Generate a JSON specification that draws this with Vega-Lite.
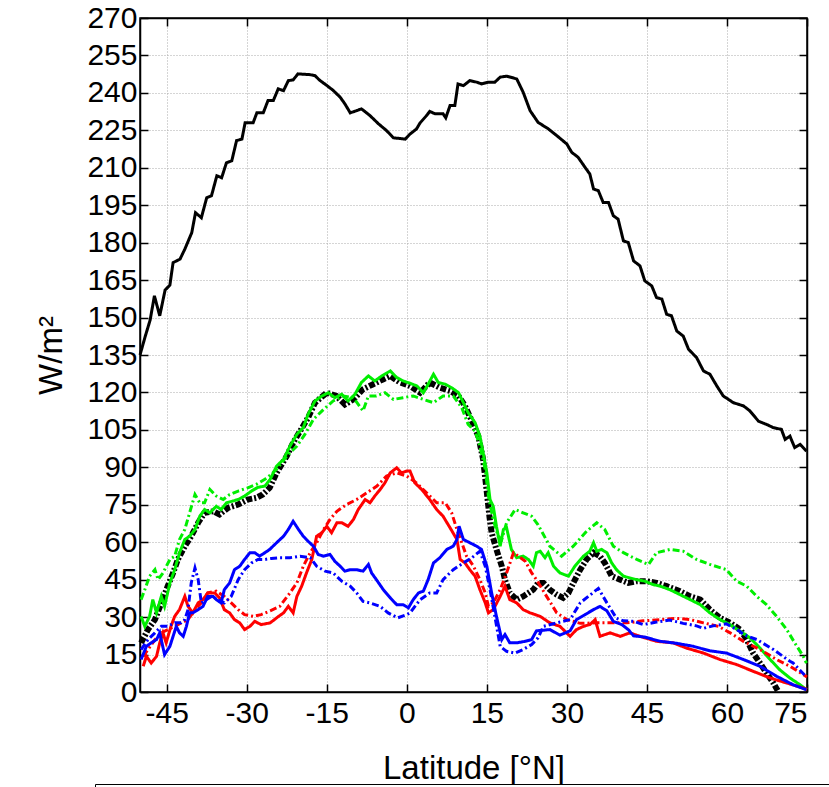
{
"$schema": "https://vega.github.io/schema/vega-lite/v6.json",
"width": 667, "height": 674,
"autosize": {"type": "none"},
"padding": {"left": 140, "top": 18, "right": 22, "bottom": 95},
"background": "white",
"config": {
 "view": {"stroke": "black", "strokeWidth": 1.5},
 "axis": {"labelFont": "Liberation Sans", "labelFontSize": 30, "labelColor": "#000", "titleFont": "Liberation Sans", "titleFontSize": 33, "titleFontWeight": "normal", "titleColor": "#000", "domainColor": "#000", "domainWidth": 1.5, "tickColor": "#000", "tickWidth": 1.5, "tickSize": -8, "gridColor": "#aaaaaa", "gridDash": [1, 2], "gridWidth": 1, "labelPadding": 11}
},
"datasets": {"d": [
{"s":"black solid","lat":-50,"v":135},{"s":"black solid","lat":-49,"v":142.6},{"s":"black solid","lat":-48.1,"v":149},{"s":"black solid","lat":-47.3,"v":158.7},{"s":"black solid","lat":-46.3,"v":150.7},{"s":"black solid","lat":-45.3,"v":161},{"s":"black solid","lat":-44.4,"v":163},{"s":"black solid","lat":-43.8,"v":172},{"s":"black solid","lat":-42.5,"v":173.4},{"s":"black solid","lat":-41.6,"v":177.4},{"s":"black solid","lat":-40.3,"v":184},{"s":"black solid","lat":-39.6,"v":192},{"s":"black solid","lat":-38.5,"v":190},{"s":"black solid","lat":-37.5,"v":198},{"s":"black solid","lat":-36.6,"v":198.8},{"s":"black solid","lat":-35.6,"v":206.8},{"s":"black solid","lat":-34.7,"v":206},{"s":"black solid","lat":-33.8,"v":212},{"s":"black solid","lat":-32.8,"v":212.8},{"s":"black solid","lat":-31.9,"v":220.9},{"s":"black solid","lat":-30.9,"v":221.5},{"s":"black solid","lat":-30.3,"v":228},{"s":"black solid","lat":-28.8,"v":228},{"s":"black solid","lat":-28.1,"v":232},{"s":"black solid","lat":-26.9,"v":232},{"s":"black solid","lat":-26,"v":237},{"s":"black solid","lat":-25,"v":237},{"s":"black solid","lat":-24.1,"v":241.6},{"s":"black solid","lat":-23.1,"v":240.9},{"s":"black solid","lat":-22.2,"v":244.9},{"s":"black solid","lat":-21.3,"v":245.2},{"s":"black solid","lat":-20.4,"v":247.6},{"s":"black solid","lat":-18.1,"v":247.3},{"s":"black solid","lat":-17.2,"v":246.9},{"s":"black solid","lat":-16.3,"v":245},{"s":"black solid","lat":-15,"v":243},{"s":"black solid","lat":-13.8,"v":241},{"s":"black solid","lat":-12.5,"v":238.3},{"s":"black solid","lat":-11.6,"v":235.6},{"s":"black solid","lat":-10.6,"v":232},{"s":"black solid","lat":-9.4,"v":232.9},{"s":"black solid","lat":-8.5,"v":233.6},{"s":"black solid","lat":-6.9,"v":230.9},{"s":"black solid","lat":-5.3,"v":227.6},{"s":"black solid","lat":-3.8,"v":224.9},{"s":"black solid","lat":-2.5,"v":222},{"s":"black solid","lat":-0.3,"v":221.5},{"s":"black solid","lat":0.6,"v":223.5},{"s":"black solid","lat":1.8,"v":225.5},{"s":"black solid","lat":2.5,"v":228},{"s":"black solid","lat":3.7,"v":230.9},{"s":"black solid","lat":4.3,"v":232.6},{"s":"black solid","lat":5.3,"v":231.6},{"s":"black solid","lat":6.8,"v":231.6},{"s":"black solid","lat":7.3,"v":230},{"s":"black solid","lat":8.1,"v":234.9},{"s":"black solid","lat":9,"v":234.9},{"s":"black solid","lat":9.6,"v":243.6},{"s":"black solid","lat":10.6,"v":242.9},{"s":"black solid","lat":11.8,"v":244.9},{"s":"black solid","lat":13.1,"v":244.3},{"s":"black solid","lat":14,"v":243.6},{"s":"black solid","lat":15.3,"v":244.3},{"s":"black solid","lat":16.5,"v":244.3},{"s":"black solid","lat":17.5,"v":246.3},{"s":"black solid","lat":18.7,"v":246.7},{"s":"black solid","lat":20.6,"v":245.6},{"s":"black solid","lat":21.8,"v":240.3},{"s":"black solid","lat":23.1,"v":232.9},{"s":"black solid","lat":24.6,"v":228.2},{"s":"black solid","lat":26.5,"v":225.6},{"s":"black solid","lat":28.1,"v":222.9},{"s":"black solid","lat":30,"v":219.5},{"s":"black solid","lat":30.9,"v":216.2},{"s":"black solid","lat":32.1,"v":214.2},{"s":"black solid","lat":33.4,"v":210.2},{"s":"black solid","lat":34.3,"v":207.5},{"s":"black solid","lat":35,"v":201.5},{"s":"black solid","lat":35.9,"v":200.8},{"s":"black solid","lat":36.8,"v":196.1},{"s":"black solid","lat":37.8,"v":196.1},{"s":"black solid","lat":38.7,"v":190.8},{"s":"black solid","lat":39.6,"v":189.4},{"s":"black solid","lat":40.6,"v":180.7},{"s":"black solid","lat":41.5,"v":180.1},{"s":"black solid","lat":42.5,"v":172.7},{"s":"black solid","lat":43.7,"v":170.7},{"s":"black solid","lat":44.6,"v":164.7},{"s":"black solid","lat":45.9,"v":162.7},{"s":"black solid","lat":46.8,"v":158},{"s":"black solid","lat":47.8,"v":157.4},{"s":"black solid","lat":48.7,"v":151.3},{"s":"black solid","lat":49.6,"v":150.7},{"s":"black solid","lat":50.6,"v":144.6},{"s":"black solid","lat":51.8,"v":142.6},{"s":"black solid","lat":52.8,"v":137.3},{"s":"black solid","lat":54.3,"v":134},{"s":"black solid","lat":55.6,"v":128.6},{"s":"black solid","lat":56.8,"v":127.3},{"s":"black solid","lat":58.1,"v":122.6},{"s":"black solid","lat":59.3,"v":118.6},{"s":"black solid","lat":61.2,"v":115.9},{"s":"black solid","lat":63.1,"v":114.6},{"s":"black solid","lat":64.3,"v":112.6},{"s":"black solid","lat":65.9,"v":108.5},{"s":"black solid","lat":67.4,"v":107.2},{"s":"black solid","lat":68.7,"v":105.9},{"s":"black solid","lat":70.2,"v":105.2},{"s":"black solid","lat":70.9,"v":101.2},{"s":"black solid","lat":71.8,"v":102.5},{"s":"black solid","lat":72.7,"v":97.9},{"s":"black solid","lat":73.7,"v":99.2},{"s":"black solid","lat":74.9,"v":96.5},
{"s":"black dash-dot","lat":-49.8,"v":19.7},{"s":"black dash-dot","lat":-48.5,"v":25},{"s":"black dash-dot","lat":-47.2,"v":29},{"s":"black dash-dot","lat":-46,"v":35.7},{"s":"black dash-dot","lat":-44.8,"v":42.4},{"s":"black dash-dot","lat":-43.8,"v":47.7},{"s":"black dash-dot","lat":-42.9,"v":53.1},{"s":"black dash-dot","lat":-41.6,"v":58.4},{"s":"black dash-dot","lat":-40.4,"v":62.4},{"s":"black dash-dot","lat":-39.1,"v":67.8},{"s":"black dash-dot","lat":-37.9,"v":71.8},{"s":"black dash-dot","lat":-36.3,"v":72.4},{"s":"black dash-dot","lat":-35.1,"v":71.1},{"s":"black dash-dot","lat":-33.5,"v":73.8},{"s":"black dash-dot","lat":-31.6,"v":75.1},{"s":"black dash-dot","lat":-29.8,"v":77.1},{"s":"black dash-dot","lat":-28.2,"v":77.8},{"s":"black dash-dot","lat":-27,"v":79.1},{"s":"black dash-dot","lat":-25.7,"v":81.8},{"s":"black dash-dot","lat":-24.4,"v":87.8},{"s":"black dash-dot","lat":-22.5,"v":94.5},{"s":"black dash-dot","lat":-21.3,"v":99.9},{"s":"black dash-dot","lat":-20,"v":104.5},{"s":"black dash-dot","lat":-18.5,"v":109.9},{"s":"black dash-dot","lat":-17.2,"v":115.9},{"s":"black dash-dot","lat":-15,"v":119.9},{"s":"black dash-dot","lat":-13.2,"v":118.6},{"s":"black dash-dot","lat":-11.6,"v":115.2},{"s":"black dash-dot","lat":-10,"v":117.2},{"s":"black dash-dot","lat":-8.2,"v":121.3},{"s":"black dash-dot","lat":-6.3,"v":123.3},{"s":"black dash-dot","lat":-4.4,"v":125.3},{"s":"black dash-dot","lat":-3.1,"v":126.6},{"s":"black dash-dot","lat":-1.3,"v":124},{"s":"black dash-dot","lat":0.6,"v":122.6},{"s":"black dash-dot","lat":2.5,"v":119.9},{"s":"black dash-dot","lat":4.3,"v":124},{"s":"black dash-dot","lat":6.2,"v":121.9},{"s":"black dash-dot","lat":8.1,"v":120.6},{"s":"black dash-dot","lat":9.7,"v":118.6},{"s":"black dash-dot","lat":10.9,"v":114.6},{"s":"black dash-dot","lat":12.2,"v":108.5},{"s":"black dash-dot","lat":13.4,"v":102.5},{"s":"black dash-dot","lat":14.3,"v":93.2},{"s":"black dash-dot","lat":15,"v":80},{"s":"black dash-dot","lat":15.5,"v":70},{"s":"black dash-dot","lat":15.9,"v":63.8},{"s":"black dash-dot","lat":16.8,"v":57.1},{"s":"black dash-dot","lat":17.8,"v":50.4},{"s":"black dash-dot","lat":18.4,"v":45},{"s":"black dash-dot","lat":19.3,"v":39.7},{"s":"black dash-dot","lat":20.6,"v":37},{"s":"black dash-dot","lat":21.8,"v":38.3},{"s":"black dash-dot","lat":22.8,"v":39.7},{"s":"black dash-dot","lat":23.7,"v":41},{"s":"black dash-dot","lat":24.6,"v":43.7},{"s":"black dash-dot","lat":25.6,"v":43.7},{"s":"black dash-dot","lat":26.8,"v":41},{"s":"black dash-dot","lat":28.1,"v":39},{"s":"black dash-dot","lat":29.3,"v":37.7},{"s":"black dash-dot","lat":30.3,"v":39.7},{"s":"black dash-dot","lat":31.2,"v":43.7},{"s":"black dash-dot","lat":32.5,"v":49},{"s":"black dash-dot","lat":33.7,"v":53.1},{"s":"black dash-dot","lat":35,"v":55.8},{"s":"black dash-dot","lat":36.2,"v":54.4},{"s":"black dash-dot","lat":37.1,"v":51.7},{"s":"black dash-dot","lat":38.4,"v":46.4},{"s":"black dash-dot","lat":40,"v":45},{"s":"black dash-dot","lat":41.5,"v":43.7},{"s":"black dash-dot","lat":43.1,"v":44.4},{"s":"black dash-dot","lat":44.9,"v":44.4},{"s":"black dash-dot","lat":46.8,"v":43.7},{"s":"black dash-dot","lat":48.7,"v":42.4},{"s":"black dash-dot","lat":51.2,"v":40.4},{"s":"black dash-dot","lat":53.1,"v":38.3},{"s":"black dash-dot","lat":55,"v":37},{"s":"black dash-dot","lat":56.8,"v":33},{"s":"black dash-dot","lat":58.7,"v":29.7},{"s":"black dash-dot","lat":60.6,"v":27.7},{"s":"black dash-dot","lat":62.5,"v":25},{"s":"black dash-dot","lat":63.7,"v":21},{"s":"black dash-dot","lat":64.9,"v":15.6},{"s":"black dash-dot","lat":66.2,"v":11.6},{"s":"black dash-dot","lat":67.4,"v":7.6},{"s":"black dash-dot","lat":68.7,"v":3.6},{"s":"black dash-dot","lat":69.6,"v":0.2},
{"s":"green solid","lat":-49.8,"v":30.3},{"s":"green solid","lat":-49.1,"v":26.3},{"s":"green solid","lat":-48.2,"v":30.3},{"s":"green solid","lat":-47.6,"v":37},{"s":"green solid","lat":-46.9,"v":31.7},{"s":"green solid","lat":-46,"v":38.3},{"s":"green solid","lat":-45.4,"v":34.3},{"s":"green solid","lat":-44.4,"v":43.7},{"s":"green solid","lat":-43.5,"v":49},{"s":"green solid","lat":-42.6,"v":55.7},{"s":"green solid","lat":-41.6,"v":61.1},{"s":"green solid","lat":-40.7,"v":62.4},{"s":"green solid","lat":-39.7,"v":65.1},{"s":"green solid","lat":-38.8,"v":70.4},{"s":"green solid","lat":-37.9,"v":73.1},{"s":"green solid","lat":-36.9,"v":71.8},{"s":"green solid","lat":-35.7,"v":74.4},{"s":"green solid","lat":-34.8,"v":73.1},{"s":"green solid","lat":-33.8,"v":75.8},{"s":"green solid","lat":-32.6,"v":76.5},{"s":"green solid","lat":-31.6,"v":77.1},{"s":"green solid","lat":-30.4,"v":78.5},{"s":"green solid","lat":-29.1,"v":80.5},{"s":"green solid","lat":-27.9,"v":82},{"s":"green solid","lat":-26.6,"v":82.5},{"s":"green solid","lat":-25.6,"v":85.2},{"s":"green solid","lat":-24.4,"v":90.5},{"s":"green solid","lat":-23.1,"v":93.2},{"s":"green solid","lat":-21.9,"v":98.5},{"s":"green solid","lat":-20.6,"v":103.2},{"s":"green solid","lat":-19.4,"v":105.9},{"s":"green solid","lat":-18.5,"v":111.2},{"s":"green solid","lat":-17.2,"v":116.6},{"s":"green solid","lat":-15.9,"v":118.6},{"s":"green solid","lat":-14.7,"v":119.9},{"s":"green solid","lat":-13.5,"v":117.9},{"s":"green solid","lat":-12.2,"v":119.3},{"s":"green solid","lat":-11,"v":116.6},{"s":"green solid","lat":-9.7,"v":119.3},{"s":"green solid","lat":-8.5,"v":124},{"s":"green solid","lat":-7.2,"v":126.6},{"s":"green solid","lat":-6,"v":124.6},{"s":"green solid","lat":-4.7,"v":126.6},{"s":"green solid","lat":-3.1,"v":128.6},{"s":"green solid","lat":-1.9,"v":126},{"s":"green solid","lat":-0.7,"v":124.6},{"s":"green solid","lat":0.6,"v":123.7},{"s":"green solid","lat":1.9,"v":122.6},{"s":"green solid","lat":3.1,"v":119.9},{"s":"green solid","lat":4,"v":123.3},{"s":"green solid","lat":5,"v":127.3},{"s":"green solid","lat":5.9,"v":124},{"s":"green solid","lat":7.2,"v":123.3},{"s":"green solid","lat":8.4,"v":121.9},{"s":"green solid","lat":9.7,"v":119.9},{"s":"green solid","lat":10.6,"v":115.9},{"s":"green solid","lat":11.5,"v":111.9},{"s":"green solid","lat":12.8,"v":107.9},{"s":"green solid","lat":13.7,"v":102.5},{"s":"green solid","lat":14.3,"v":95.9},{"s":"green solid","lat":15,"v":87.8},{"s":"green solid","lat":15.6,"v":77.1},{"s":"green solid","lat":16.2,"v":74.4},{"s":"green solid","lat":16.8,"v":66.4},{"s":"green solid","lat":17.5,"v":58.4},{"s":"green solid","lat":18.1,"v":65.1},{"s":"green solid","lat":18.7,"v":65.8},{"s":"green solid","lat":19.6,"v":57.1},{"s":"green solid","lat":20.6,"v":53.8},{"s":"green solid","lat":21.8,"v":54.4},{"s":"green solid","lat":22.8,"v":53.1},{"s":"green solid","lat":23.7,"v":50.4},{"s":"green solid","lat":24.3,"v":55.8},{"s":"green solid","lat":25,"v":56.4},{"s":"green solid","lat":25.9,"v":53.8},{"s":"green solid","lat":26.5,"v":55.8},{"s":"green solid","lat":27.5,"v":50.4},{"s":"green solid","lat":28.7,"v":47.7},{"s":"green solid","lat":30.3,"v":46.4},{"s":"green solid","lat":31.5,"v":50.4},{"s":"green solid","lat":33.1,"v":54.4},{"s":"green solid","lat":34.3,"v":56.4},{"s":"green solid","lat":35,"v":59.8},{"s":"green solid","lat":35.6,"v":56.4},{"s":"green solid","lat":36.5,"v":57.1},{"s":"green solid","lat":37.5,"v":55.8},{"s":"green solid","lat":38.4,"v":51.7},{"s":"green solid","lat":39.3,"v":49},{"s":"green solid","lat":40.6,"v":46.4},{"s":"green solid","lat":41.8,"v":45.7},{"s":"green solid","lat":43.1,"v":45},{"s":"green solid","lat":44.6,"v":44.4},{"s":"green solid","lat":46.2,"v":43},{"s":"green solid","lat":47.5,"v":42.4},{"s":"green solid","lat":49.3,"v":41},{"s":"green solid","lat":51.2,"v":39},{"s":"green solid","lat":53.1,"v":37},{"s":"green solid","lat":55,"v":35},{"s":"green solid","lat":56.8,"v":31.7},{"s":"green solid","lat":58.7,"v":29},{"s":"green solid","lat":60.6,"v":27},{"s":"green solid","lat":62.5,"v":24.3},{"s":"green solid","lat":64.3,"v":21.7},{"s":"green solid","lat":66.2,"v":17.6},{"s":"green solid","lat":68.1,"v":13},{"s":"green solid","lat":69.9,"v":8.9},{"s":"green solid","lat":71.8,"v":5.6},{"s":"green solid","lat":73.7,"v":2.9},{"s":"green solid","lat":74.9,"v":0.9},
{"s":"green dash-dot","lat":-49.8,"v":37},{"s":"green dash-dot","lat":-49.1,"v":41},{"s":"green dash-dot","lat":-48.2,"v":46.4},{"s":"green dash-dot","lat":-47.2,"v":49},{"s":"green dash-dot","lat":-46.6,"v":45},{"s":"green dash-dot","lat":-45.7,"v":47.7},{"s":"green dash-dot","lat":-44.4,"v":53.1},{"s":"green dash-dot","lat":-43.5,"v":54.4},{"s":"green dash-dot","lat":-42.6,"v":61.1},{"s":"green dash-dot","lat":-41.6,"v":65.1},{"s":"green dash-dot","lat":-40.7,"v":71.8},{"s":"green dash-dot","lat":-39.7,"v":79.1},{"s":"green dash-dot","lat":-38.8,"v":75.8},{"s":"green dash-dot","lat":-37.9,"v":75.8},{"s":"green dash-dot","lat":-36.9,"v":81.1},{"s":"green dash-dot","lat":-35.7,"v":78.5},{"s":"green dash-dot","lat":-34.4,"v":77.1},{"s":"green dash-dot","lat":-33.2,"v":79.1},{"s":"green dash-dot","lat":-31.6,"v":80.5},{"s":"green dash-dot","lat":-29.8,"v":81.8},{"s":"green dash-dot","lat":-28.2,"v":83.2},{"s":"green dash-dot","lat":-26.6,"v":85.2},{"s":"green dash-dot","lat":-25.4,"v":87.2},{"s":"green dash-dot","lat":-24.4,"v":89.2},{"s":"green dash-dot","lat":-22.5,"v":94.5},{"s":"green dash-dot","lat":-20.6,"v":98.5},{"s":"green dash-dot","lat":-19.1,"v":103.2},{"s":"green dash-dot","lat":-17.5,"v":109.2},{"s":"green dash-dot","lat":-15.6,"v":113.2},{"s":"green dash-dot","lat":-13.8,"v":116.6},{"s":"green dash-dot","lat":-11.9,"v":118.6},{"s":"green dash-dot","lat":-10,"v":117.9},{"s":"green dash-dot","lat":-8.2,"v":112.6},{"s":"green dash-dot","lat":-7.2,"v":118.6},{"s":"green dash-dot","lat":-5.7,"v":118.6},{"s":"green dash-dot","lat":-4.1,"v":119.9},{"s":"green dash-dot","lat":-2.5,"v":117.2},{"s":"green dash-dot","lat":-0.7,"v":117.9},{"s":"green dash-dot","lat":1.2,"v":118.6},{"s":"green dash-dot","lat":3.1,"v":117.2},{"s":"green dash-dot","lat":5,"v":115.9},{"s":"green dash-dot","lat":6.8,"v":118.6},{"s":"green dash-dot","lat":8.7,"v":118.6},{"s":"green dash-dot","lat":10.3,"v":113.9},{"s":"green dash-dot","lat":11.5,"v":107.2},{"s":"green dash-dot","lat":12.8,"v":104.5},{"s":"green dash-dot","lat":13.7,"v":98.5},{"s":"green dash-dot","lat":14.7,"v":89.2},{"s":"green dash-dot","lat":15.3,"v":78.5},{"s":"green dash-dot","lat":16.2,"v":69.1},{"s":"green dash-dot","lat":17.1,"v":62.4},{"s":"green dash-dot","lat":17.8,"v":61.1},{"s":"green dash-dot","lat":18.7,"v":67.8},{"s":"green dash-dot","lat":20.3,"v":73.1},{"s":"green dash-dot","lat":21.8,"v":71.8},{"s":"green dash-dot","lat":23.4,"v":70.4},{"s":"green dash-dot","lat":24.6,"v":67},{"s":"green dash-dot","lat":26.8,"v":58.4},{"s":"green dash-dot","lat":29,"v":54.4},{"s":"green dash-dot","lat":31.2,"v":58.4},{"s":"green dash-dot","lat":33.7,"v":64.4},{"s":"green dash-dot","lat":35.6,"v":67.8},{"s":"green dash-dot","lat":37.1,"v":65.1},{"s":"green dash-dot","lat":38.7,"v":58.4},{"s":"green dash-dot","lat":40.6,"v":55.8},{"s":"green dash-dot","lat":43.1,"v":53.1},{"s":"green dash-dot","lat":45.3,"v":51.1},{"s":"green dash-dot","lat":46.8,"v":55.8},{"s":"green dash-dot","lat":49.3,"v":57.1},{"s":"green dash-dot","lat":51.8,"v":56.4},{"s":"green dash-dot","lat":54.3,"v":53.1},{"s":"green dash-dot","lat":56.8,"v":51.1},{"s":"green dash-dot","lat":59.9,"v":49},{"s":"green dash-dot","lat":61.8,"v":44.4},{"s":"green dash-dot","lat":63.7,"v":42.4},{"s":"green dash-dot","lat":65.6,"v":38.3},{"s":"green dash-dot","lat":67.4,"v":35},{"s":"green dash-dot","lat":69.3,"v":30.3},{"s":"green dash-dot","lat":71.2,"v":25},{"s":"green dash-dot","lat":72.7,"v":19.7},{"s":"green dash-dot","lat":74.3,"v":14.3},{"s":"green dash-dot","lat":74.9,"v":11.6},
{"s":"red solid","lat":-49.4,"v":10.3},{"s":"red solid","lat":-48.8,"v":14.3},{"s":"red solid","lat":-47.9,"v":11.6},{"s":"red solid","lat":-46.9,"v":14.3},{"s":"red solid","lat":-46.3,"v":19.7},{"s":"red solid","lat":-45.7,"v":23.7},{"s":"red solid","lat":-45.1,"v":19.7},{"s":"red solid","lat":-44.2,"v":26.3},{"s":"red solid","lat":-43.5,"v":30.3},{"s":"red solid","lat":-42.6,"v":33},{"s":"red solid","lat":-41.6,"v":38.3},{"s":"red solid","lat":-41,"v":34.3},{"s":"red solid","lat":-40.1,"v":31.7},{"s":"red solid","lat":-39.1,"v":35.7},{"s":"red solid","lat":-38.2,"v":37},{"s":"red solid","lat":-37.3,"v":39.7},{"s":"red solid","lat":-36,"v":39.7},{"s":"red solid","lat":-35.1,"v":37.7},{"s":"red solid","lat":-34.2,"v":33},{"s":"red solid","lat":-33.2,"v":31.7},{"s":"red solid","lat":-32.3,"v":29},{"s":"red solid","lat":-31.3,"v":27.7},{"s":"red solid","lat":-30.4,"v":25},{"s":"red solid","lat":-29.4,"v":26.3},{"s":"red solid","lat":-28.5,"v":28.3},{"s":"red solid","lat":-27.3,"v":27},{"s":"red solid","lat":-25.6,"v":27.7},{"s":"red solid","lat":-24.4,"v":29.7},{"s":"red solid","lat":-23.1,"v":31.7},{"s":"red solid","lat":-22.2,"v":34.3},{"s":"red solid","lat":-21.3,"v":31.7},{"s":"red solid","lat":-20.6,"v":38.3},{"s":"red solid","lat":-19.7,"v":42.4},{"s":"red solid","lat":-18.8,"v":47.7},{"s":"red solid","lat":-17.8,"v":53.1},{"s":"red solid","lat":-16.9,"v":62.4},{"s":"red solid","lat":-15.9,"v":63.8},{"s":"red solid","lat":-15,"v":66.4},{"s":"red solid","lat":-14.1,"v":63.8},{"s":"red solid","lat":-13.1,"v":67.8},{"s":"red solid","lat":-12.2,"v":67.8},{"s":"red solid","lat":-11,"v":66.4},{"s":"red solid","lat":-10,"v":69.1},{"s":"red solid","lat":-9.1,"v":73.1},{"s":"red solid","lat":-7.8,"v":77.1},{"s":"red solid","lat":-6.9,"v":75.8},{"s":"red solid","lat":-6,"v":78.5},{"s":"red solid","lat":-5,"v":81.1},{"s":"red solid","lat":-4.1,"v":83.8},{"s":"red solid","lat":-3.1,"v":87.8},{"s":"red solid","lat":-1.9,"v":89.8},{"s":"red solid","lat":-1,"v":87.8},{"s":"red solid","lat":0,"v":88.5},{"s":"red solid","lat":0.6,"v":88.5},{"s":"red solid","lat":1.5,"v":83.8},{"s":"red solid","lat":2.8,"v":81.1},{"s":"red solid","lat":4.3,"v":77.1},{"s":"red solid","lat":5.6,"v":73.1},{"s":"red solid","lat":6.8,"v":70.4},{"s":"red solid","lat":8.1,"v":65.8},{"s":"red solid","lat":9.4,"v":61.1},{"s":"red solid","lat":10,"v":53.1},{"s":"red solid","lat":10.9,"v":51.7},{"s":"red solid","lat":11.8,"v":49},{"s":"red solid","lat":12.8,"v":46.4},{"s":"red solid","lat":13.7,"v":41},{"s":"red solid","lat":14.7,"v":35.7},{"s":"red solid","lat":15.3,"v":31.7},{"s":"red solid","lat":16.2,"v":33},{"s":"red solid","lat":17.5,"v":38.3},{"s":"red solid","lat":18.4,"v":42.4},{"s":"red solid","lat":19.3,"v":37},{"s":"red solid","lat":20.6,"v":35.7},{"s":"red solid","lat":21.8,"v":33},{"s":"red solid","lat":23.1,"v":31.7},{"s":"red solid","lat":25,"v":30.3},{"s":"red solid","lat":26.8,"v":27.7},{"s":"red solid","lat":28.7,"v":26.3},{"s":"red solid","lat":30.6,"v":22.3},{"s":"red solid","lat":31.8,"v":25},{"s":"red solid","lat":33.1,"v":26.3},{"s":"red solid","lat":34.3,"v":27},{"s":"red solid","lat":35.3,"v":29},{"s":"red solid","lat":36.2,"v":22.3},{"s":"red solid","lat":38.1,"v":23.7},{"s":"red solid","lat":40,"v":22.3},{"s":"red solid","lat":41.8,"v":23.7},{"s":"red solid","lat":43.7,"v":22.3},{"s":"red solid","lat":46.8,"v":20.3},{"s":"red solid","lat":49.9,"v":19.7},{"s":"red solid","lat":52.4,"v":17.6},{"s":"red solid","lat":55.6,"v":15.6},{"s":"red solid","lat":58.7,"v":13},{"s":"red solid","lat":61.8,"v":11},{"s":"red solid","lat":64.9,"v":8.3},{"s":"red solid","lat":68.1,"v":5.6},{"s":"red solid","lat":71.2,"v":3.6},{"s":"red solid","lat":74.3,"v":1.6},{"s":"red solid","lat":75,"v":1},
{"s":"red dash-dot","lat":-49.4,"v":14.3},{"s":"red dash-dot","lat":-48.5,"v":17},{"s":"red dash-dot","lat":-47.2,"v":21},{"s":"red dash-dot","lat":-46,"v":23.7},{"s":"red dash-dot","lat":-44.8,"v":25},{"s":"red dash-dot","lat":-43.5,"v":26.3},{"s":"red dash-dot","lat":-42.3,"v":27.7},{"s":"red dash-dot","lat":-41,"v":29},{"s":"red dash-dot","lat":-39.7,"v":33},{"s":"red dash-dot","lat":-38.5,"v":35.7},{"s":"red dash-dot","lat":-37.3,"v":39.7},{"s":"red dash-dot","lat":-35.7,"v":40.4},{"s":"red dash-dot","lat":-34.2,"v":38.3},{"s":"red dash-dot","lat":-32.9,"v":35.7},{"s":"red dash-dot","lat":-31.6,"v":33},{"s":"red dash-dot","lat":-30.4,"v":31},{"s":"red dash-dot","lat":-28.8,"v":30.3},{"s":"red dash-dot","lat":-27.3,"v":31},{"s":"red dash-dot","lat":-25.6,"v":32.5},{"s":"red dash-dot","lat":-23.8,"v":34.3},{"s":"red dash-dot","lat":-21.9,"v":39.7},{"s":"red dash-dot","lat":-20.6,"v":43.7},{"s":"red dash-dot","lat":-19.4,"v":50.4},{"s":"red dash-dot","lat":-18.1,"v":55.8},{"s":"red dash-dot","lat":-16.9,"v":59.8},{"s":"red dash-dot","lat":-15.6,"v":65.1},{"s":"red dash-dot","lat":-14.4,"v":69.1},{"s":"red dash-dot","lat":-13.1,"v":72.4},{"s":"red dash-dot","lat":-11.3,"v":75.1},{"s":"red dash-dot","lat":-9.4,"v":77.1},{"s":"red dash-dot","lat":-7.5,"v":79.8},{"s":"red dash-dot","lat":-5.6,"v":82.5},{"s":"red dash-dot","lat":-3.8,"v":86.5},{"s":"red dash-dot","lat":-1.9,"v":87.8},{"s":"red dash-dot","lat":0,"v":86.5},{"s":"red dash-dot","lat":1.8,"v":83.8},{"s":"red dash-dot","lat":3.7,"v":79.8},{"s":"red dash-dot","lat":5.6,"v":75.8},{"s":"red dash-dot","lat":7.2,"v":75.8},{"s":"red dash-dot","lat":8.4,"v":71.8},{"s":"red dash-dot","lat":9.4,"v":65.1},{"s":"red dash-dot","lat":10.3,"v":59.8},{"s":"red dash-dot","lat":11.2,"v":54.4},{"s":"red dash-dot","lat":12.5,"v":50.4},{"s":"red dash-dot","lat":13.7,"v":45},{"s":"red dash-dot","lat":14.7,"v":39.7},{"s":"red dash-dot","lat":15.3,"v":34.3},{"s":"red dash-dot","lat":16.2,"v":35.7},{"s":"red dash-dot","lat":17.5,"v":41},{"s":"red dash-dot","lat":18.7,"v":47.7},{"s":"red dash-dot","lat":20,"v":55.8},{"s":"red dash-dot","lat":20.9,"v":54.4},{"s":"red dash-dot","lat":22.2,"v":52.4},{"s":"red dash-dot","lat":23.4,"v":47.7},{"s":"red dash-dot","lat":24.3,"v":45},{"s":"red dash-dot","lat":26.2,"v":38.3},{"s":"red dash-dot","lat":28.1,"v":31.7},{"s":"red dash-dot","lat":30,"v":29},{"s":"red dash-dot","lat":32.5,"v":27.5},{"s":"red dash-dot","lat":35.6,"v":27.7},{"s":"red dash-dot","lat":38.1,"v":27.7},{"s":"red dash-dot","lat":41.2,"v":27.7},{"s":"red dash-dot","lat":44.3,"v":28.5},{"s":"red dash-dot","lat":47.5,"v":29},{"s":"red dash-dot","lat":50.6,"v":29.5},{"s":"red dash-dot","lat":53.1,"v":29},{"s":"red dash-dot","lat":55.6,"v":27.7},{"s":"red dash-dot","lat":58.4,"v":26.3},{"s":"red dash-dot","lat":60.6,"v":23.7},{"s":"red dash-dot","lat":63.1,"v":20.3},{"s":"red dash-dot","lat":66.2,"v":17},{"s":"red dash-dot","lat":69.3,"v":13},{"s":"red dash-dot","lat":71.8,"v":10.3},{"s":"red dash-dot","lat":74.3,"v":7},{"s":"red dash-dot","lat":75,"v":6},
{"s":"blue solid","lat":-49.8,"v":13},{"s":"blue solid","lat":-48.8,"v":18.3},{"s":"blue solid","lat":-47.9,"v":19.7},{"s":"blue solid","lat":-46.9,"v":21},{"s":"blue solid","lat":-46.3,"v":23.7},{"s":"blue solid","lat":-45.4,"v":15},{"s":"blue solid","lat":-44.4,"v":18.3},{"s":"blue solid","lat":-43.8,"v":22.3},{"s":"blue solid","lat":-43.2,"v":26.3},{"s":"blue solid","lat":-42.6,"v":23.7},{"s":"blue solid","lat":-41.9,"v":22.3},{"s":"blue solid","lat":-41.3,"v":26.3},{"s":"blue solid","lat":-40.7,"v":31.7},{"s":"blue solid","lat":-40.1,"v":31.7},{"s":"blue solid","lat":-39.1,"v":33},{"s":"blue solid","lat":-38.2,"v":34.3},{"s":"blue solid","lat":-37.3,"v":38.3},{"s":"blue solid","lat":-36.3,"v":38.3},{"s":"blue solid","lat":-35.7,"v":37},{"s":"blue solid","lat":-34.8,"v":35.7},{"s":"blue solid","lat":-34.2,"v":41},{"s":"blue solid","lat":-33.2,"v":43.7},{"s":"blue solid","lat":-32.3,"v":49},{"s":"blue solid","lat":-31.3,"v":50.4},{"s":"blue solid","lat":-30.4,"v":53.1},{"s":"blue solid","lat":-29.4,"v":55.8},{"s":"blue solid","lat":-28.5,"v":55.8},{"s":"blue solid","lat":-27.6,"v":54.4},{"s":"blue solid","lat":-26.6,"v":55.8},{"s":"blue solid","lat":-25.7,"v":57.1},{"s":"blue solid","lat":-24.4,"v":59.8},{"s":"blue solid","lat":-23.1,"v":62.4},{"s":"blue solid","lat":-22.2,"v":65.1},{"s":"blue solid","lat":-21.3,"v":68.4},{"s":"blue solid","lat":-20.3,"v":65.1},{"s":"blue solid","lat":-19.4,"v":62.4},{"s":"blue solid","lat":-18.5,"v":60.4},{"s":"blue solid","lat":-17.5,"v":58.4},{"s":"blue solid","lat":-16.6,"v":55.1},{"s":"blue solid","lat":-15.6,"v":54.4},{"s":"blue solid","lat":-14.4,"v":55.1},{"s":"blue solid","lat":-13.5,"v":52.4},{"s":"blue solid","lat":-12.5,"v":50.4},{"s":"blue solid","lat":-11.6,"v":48.4},{"s":"blue solid","lat":-10.6,"v":49},{"s":"blue solid","lat":-9.4,"v":49},{"s":"blue solid","lat":-8.2,"v":48.4},{"s":"blue solid","lat":-7.2,"v":51.1},{"s":"blue solid","lat":-6.6,"v":47.7},{"s":"blue solid","lat":-5.7,"v":45},{"s":"blue solid","lat":-4.4,"v":41},{"s":"blue solid","lat":-3.1,"v":37.7},{"s":"blue solid","lat":-1.9,"v":35},{"s":"blue solid","lat":-0.7,"v":35},{"s":"blue solid","lat":0.3,"v":33.7},{"s":"blue solid","lat":1.2,"v":37},{"s":"blue solid","lat":2.2,"v":39.7},{"s":"blue solid","lat":3.1,"v":40.4},{"s":"blue solid","lat":4,"v":45},{"s":"blue solid","lat":5,"v":51.7},{"s":"blue solid","lat":6.2,"v":53.8},{"s":"blue solid","lat":7.5,"v":57.1},{"s":"blue solid","lat":8.7,"v":58.4},{"s":"blue solid","lat":9.4,"v":61.1},{"s":"blue solid","lat":9.8,"v":66.4},{"s":"blue solid","lat":10.6,"v":61.1},{"s":"blue solid","lat":11.8,"v":59.8},{"s":"blue solid","lat":13.1,"v":58.4},{"s":"blue solid","lat":14,"v":57.1},{"s":"blue solid","lat":15,"v":50.4},{"s":"blue solid","lat":15.9,"v":39.7},{"s":"blue solid","lat":16.8,"v":30.3},{"s":"blue solid","lat":17.8,"v":21},{"s":"blue solid","lat":18.4,"v":23},{"s":"blue solid","lat":19.3,"v":19.7},{"s":"blue solid","lat":20.6,"v":19.7},{"s":"blue solid","lat":22.2,"v":20.3},{"s":"blue solid","lat":23.4,"v":21},{"s":"blue solid","lat":24.3,"v":24.5},{"s":"blue solid","lat":26.8,"v":25},{"s":"blue solid","lat":28.7,"v":22.8},{"s":"blue solid","lat":30.6,"v":24.5},{"s":"blue solid","lat":31.8,"v":29},{"s":"blue solid","lat":33.4,"v":31},{"s":"blue solid","lat":35,"v":33},{"s":"blue solid","lat":36.2,"v":34.3},{"s":"blue solid","lat":37.5,"v":32.5},{"s":"blue solid","lat":38.7,"v":28.3},{"s":"blue solid","lat":40.3,"v":27},{"s":"blue solid","lat":41.5,"v":25},{"s":"blue solid","lat":42.5,"v":22.5},{"s":"blue solid","lat":44.6,"v":22},{"s":"blue solid","lat":47.5,"v":20.3},{"s":"blue solid","lat":50.6,"v":19.5},{"s":"blue solid","lat":53.7,"v":18.3},{"s":"blue solid","lat":56.8,"v":16.5},{"s":"blue solid","lat":59.9,"v":15.6},{"s":"blue solid","lat":63.1,"v":13},{"s":"blue solid","lat":66.2,"v":10.3},{"s":"blue solid","lat":69.3,"v":6.3},{"s":"blue solid","lat":72.4,"v":2.9},{"s":"blue solid","lat":74.9,"v":0.9},
{"s":"blue dash-dot","lat":-49.8,"v":17},{"s":"blue dash-dot","lat":-48.5,"v":21},{"s":"blue dash-dot","lat":-47.2,"v":23.7},{"s":"blue dash-dot","lat":-46,"v":26.3},{"s":"blue dash-dot","lat":-44.8,"v":26.3},{"s":"blue dash-dot","lat":-43.5,"v":27.7},{"s":"blue dash-dot","lat":-42.3,"v":27.7},{"s":"blue dash-dot","lat":-41.6,"v":29},{"s":"blue dash-dot","lat":-41,"v":33},{"s":"blue dash-dot","lat":-40.4,"v":43.7},{"s":"blue dash-dot","lat":-39.7,"v":49.7},{"s":"blue dash-dot","lat":-39.1,"v":45},{"s":"blue dash-dot","lat":-38.5,"v":35.7},{"s":"blue dash-dot","lat":-37.6,"v":37},{"s":"blue dash-dot","lat":-36.6,"v":38.3},{"s":"blue dash-dot","lat":-35.4,"v":37},{"s":"blue dash-dot","lat":-34.2,"v":35.7},{"s":"blue dash-dot","lat":-32.9,"v":38.3},{"s":"blue dash-dot","lat":-31.6,"v":45},{"s":"blue dash-dot","lat":-30.4,"v":49},{"s":"blue dash-dot","lat":-29.1,"v":51.7},{"s":"blue dash-dot","lat":-27.9,"v":53.1},{"s":"blue dash-dot","lat":-26.6,"v":53.1},{"s":"blue dash-dot","lat":-25.4,"v":53.5},{"s":"blue dash-dot","lat":-23.8,"v":53.8},{"s":"blue dash-dot","lat":-21.9,"v":53.8},{"s":"blue dash-dot","lat":-20,"v":54.4},{"s":"blue dash-dot","lat":-18.1,"v":53.8},{"s":"blue dash-dot","lat":-16.9,"v":50.4},{"s":"blue dash-dot","lat":-15.3,"v":48.4},{"s":"blue dash-dot","lat":-13.8,"v":47.7},{"s":"blue dash-dot","lat":-12.2,"v":44.4},{"s":"blue dash-dot","lat":-10.6,"v":42.4},{"s":"blue dash-dot","lat":-9.4,"v":39.7},{"s":"blue dash-dot","lat":-8.2,"v":36.3},{"s":"blue dash-dot","lat":-6.9,"v":35.7},{"s":"blue dash-dot","lat":-5,"v":34.3},{"s":"blue dash-dot","lat":-3.5,"v":31.7},{"s":"blue dash-dot","lat":-1.7,"v":29.7},{"s":"blue dash-dot","lat":0,"v":31},{"s":"blue dash-dot","lat":0.6,"v":31.7},{"s":"blue dash-dot","lat":2.5,"v":37},{"s":"blue dash-dot","lat":4.3,"v":39.7},{"s":"blue dash-dot","lat":5.6,"v":39.7},{"s":"blue dash-dot","lat":6.8,"v":45},{"s":"blue dash-dot","lat":8.7,"v":49},{"s":"blue dash-dot","lat":10.6,"v":51.7},{"s":"blue dash-dot","lat":12.2,"v":53.8},{"s":"blue dash-dot","lat":13.7,"v":56.4},{"s":"blue dash-dot","lat":14.7,"v":50.4},{"s":"blue dash-dot","lat":15.6,"v":41},{"s":"blue dash-dot","lat":16.5,"v":30.3},{"s":"blue dash-dot","lat":17.5,"v":18.3},{"s":"blue dash-dot","lat":18.7,"v":16.3},{"s":"blue dash-dot","lat":20.3,"v":15.6},{"s":"blue dash-dot","lat":21.8,"v":17},{"s":"blue dash-dot","lat":23.4,"v":19},{"s":"blue dash-dot","lat":24.6,"v":21.7},{"s":"blue dash-dot","lat":25.6,"v":26.3},{"s":"blue dash-dot","lat":28.1,"v":27.7},{"s":"blue dash-dot","lat":30.6,"v":29},{"s":"blue dash-dot","lat":32.5,"v":35.7},{"s":"blue dash-dot","lat":35.9,"v":41.5},{"s":"blue dash-dot","lat":37.5,"v":35.7},{"s":"blue dash-dot","lat":39.3,"v":29.5},{"s":"blue dash-dot","lat":40.6,"v":28.5},{"s":"blue dash-dot","lat":42.5,"v":28.3},{"s":"blue dash-dot","lat":44.3,"v":27},{"s":"blue dash-dot","lat":46.8,"v":28},{"s":"blue dash-dot","lat":49.3,"v":28.8},{"s":"blue dash-dot","lat":51.8,"v":27.5},{"s":"blue dash-dot","lat":54.3,"v":26.5},{"s":"blue dash-dot","lat":55.6,"v":25.5},{"s":"blue dash-dot","lat":57.4,"v":26.5},{"s":"blue dash-dot","lat":59.9,"v":27.3},{"s":"blue dash-dot","lat":62.4,"v":24.3},{"s":"blue dash-dot","lat":63.1,"v":23},{"s":"blue dash-dot","lat":65.6,"v":21},{"s":"blue dash-dot","lat":68.7,"v":17},{"s":"blue dash-dot","lat":71.8,"v":12.3},{"s":"blue dash-dot","lat":72.4,"v":11.6},{"s":"blue dash-dot","lat":74.9,"v":6}
]},
"data": {"name": "d"},
"layer": [
 {
  "transform": [{"filter": "datum.s === 'black dash-dot'"}],
  "mark": {"type": "line", "strokeWidth": 6, "strokeCap": "butt"},
  "encoding": {
   "x": {"field": "lat", "type": "quantitative", "scale": {"domain": [-50, 75], "nice": false, "zero": false},
         "axis": {"orient": "bottom", "values": [-45, -30, -15, 0, 15, 30, 45, 60, 75], "labelExpr": "replace(datum.label, '−', '-')", "title": "Latitude [°N]", "grid": true, "labelPadding": 14, "titlePadding": 24}},
   "y": {"field": "v", "type": "quantitative", "scale": {"domain": [0, 270], "nice": false, "zero": true},
         "axis": {"orient": "left", "values": [0, 15, 30, 45, 60, 75, 90, 105, 120, 135, 150, 165, 180, 195, 210, 225, 240, 255, 270], "title": "W/m²", "grid": true, "titlePadding": 18}},
   "color": {"field": "s", "type": "nominal",
     "scale": {"domain": ["black solid", "black dash-dot", "green solid", "green dash-dot", "red solid", "red dash-dot", "blue solid", "blue dash-dot"],
               "range": ["#000000", "#000000", "#00ee00", "#00ee00", "#ff0000", "#ff0000", "#0000ff", "#0000ff"]},
     "legend": {"orient": "none", "legendX": -45, "legendY": 766, "title": null, "columns": 8, "strokeColor": "black", "fillColor": "white", "padding": 14, "labelExpr": "''", "labelLimit": 1, "symbolType": "stroke", "symbolSize": 3600, "symbolStrokeWidth": 3, "columnPadding": 45}},
   "strokeDash": {"field": "s", "type": "nominal",
     "scale": {"domain": ["black solid", "black dash-dot", "green solid", "green dash-dot", "red solid", "red dash-dot", "blue solid", "blue dash-dot"],
               "range": [[1, 0], [6, 2, 2, 2], [1, 0], [7, 3, 2, 3], [1, 0], [7, 3, 2, 3], [1, 0], [7, 3, 2, 3]]}}
  }
 },
 {
  "transform": [{"filter": "datum.s !== 'black dash-dot'"}],
  "mark": {"type": "line", "strokeWidth": 3},
  "encoding": {
   "x": {"field": "lat", "type": "quantitative", "scale": {"domain": [-50, 75], "nice": false, "zero": false},
         "axis": {"orient": "top", "values": [-45, -30, -15, 0, 15, 30, 45, 60, 75], "title": null, "labels": false, "grid": false}},
   "y": {"field": "v", "type": "quantitative", "scale": {"domain": [0, 270], "nice": false, "zero": true},
         "axis": {"orient": "right", "values": [0, 15, 30, 45, 60, 75, 90, 105, 120, 135, 150, 165, 180, 195, 210, 225, 240, 255, 270], "title": null, "labels": false, "grid": false}},
   "color": {"field": "s", "type": "nominal"},
   "strokeDash": {"field": "s", "type": "nominal"}
  }
 }
],
"resolve": {"scale": {"x": "independent", "y": "independent"}, "axis": {"x": "independent", "y": "independent"}}
}
